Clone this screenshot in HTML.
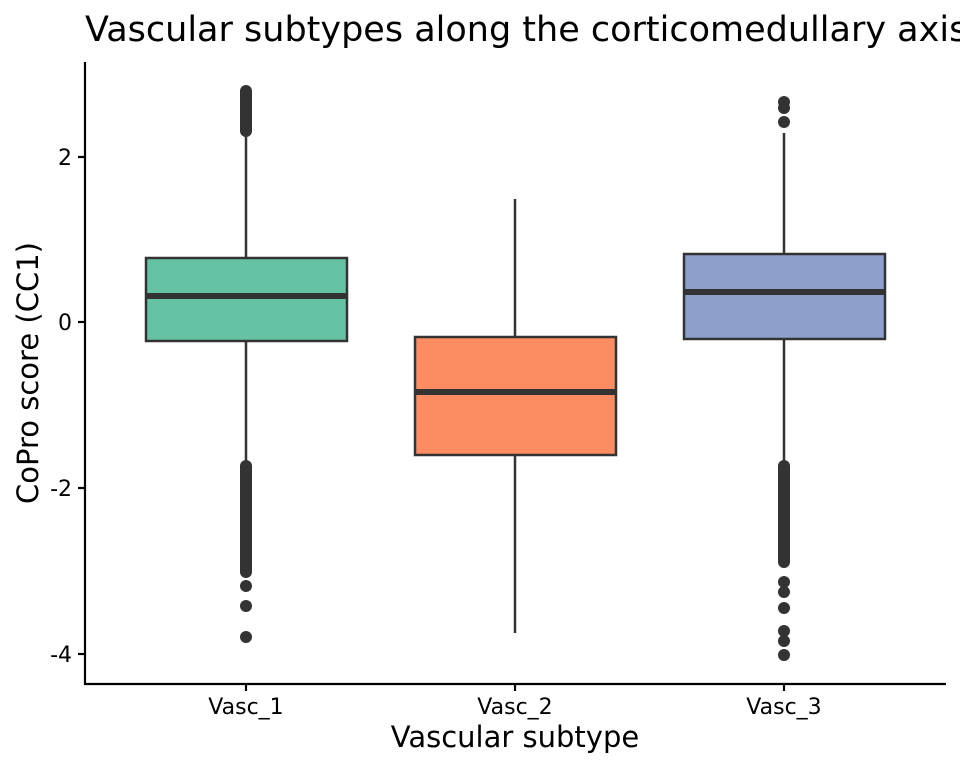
<!DOCTYPE html>
<html><head><meta charset="utf-8"><style>body{margin:0;background:#fff}svg{display:block}</style></head><body>
<svg width="960" height="768" xmlns="http://www.w3.org/2000/svg" font-family="DejaVu Sans, sans-serif">
<rect width="960" height="768" fill="#fff"/>
<text x="85" y="41" font-size="35" fill="#000">Vascular subtypes along the corticomedullary axis</text>
<g stroke="#333" stroke-width="2.5" fill="none">
<line x1="246" y1="130" x2="246" y2="258"/><line x1="246" y1="341" x2="246" y2="465"/>
<line x1="515" y1="199" x2="515" y2="337"/><line x1="515" y1="455" x2="515" y2="633"/>
<line x1="784" y1="133" x2="784" y2="254"/><line x1="784" y1="339" x2="784" y2="465"/>
</g>
<rect x="146" y="258" width="201" height="83" fill="#66c2a5" stroke="#333" stroke-width="2.5"/>
<rect x="415" y="337" width="201" height="118" fill="#fc8d62" stroke="#333" stroke-width="2.5"/>
<rect x="684" y="254" width="201" height="85" fill="#8da0cb" stroke="#333" stroke-width="2.5"/>
<g stroke="#333" stroke-width="6">
<line x1="146" y1="296" x2="347" y2="296"/><line x1="415" y1="392" x2="616" y2="392"/><line x1="684" y1="292" x2="885" y2="292"/>
</g>
<g fill="#333">
<rect x="240" y="85" width="12" height="52" rx="6"/>
<rect x="240" y="460" width="12" height="118" rx="6"/>
<circle cx="246" cy="586" r="6"/><circle cx="246" cy="606" r="6"/><circle cx="246" cy="637" r="6"/>
<circle cx="784" cy="102" r="6"/><circle cx="784" cy="108" r="6"/><circle cx="784" cy="122" r="6"/>
<rect x="778" y="460" width="12" height="108" rx="6"/>
<circle cx="784" cy="582" r="6"/><circle cx="784" cy="592" r="6"/><circle cx="784" cy="608" r="6"/><circle cx="784" cy="631" r="6"/><circle cx="784" cy="641" r="6"/><circle cx="784" cy="655" r="6"/>
</g>
<g stroke="#000" stroke-width="2.2">
<line x1="85" y1="62" x2="85" y2="685"/><line x1="84" y1="684" x2="946" y2="684"/>
<line x1="78" y1="157" x2="85" y2="157"/><line x1="78" y1="322" x2="85" y2="322"/><line x1="78" y1="488" x2="85" y2="488"/><line x1="78" y1="654" x2="85" y2="654"/>
<line x1="246" y1="684" x2="246" y2="691"/><line x1="515" y1="684" x2="515" y2="691"/><line x1="784" y1="684" x2="784" y2="691"/>
</g>
<g font-size="22" fill="#000" text-anchor="end">
<text x="72" y="165">2</text><text x="72" y="330">0</text><text x="72" y="496">-2</text><text x="72" y="662">-4</text>
</g>
<g font-size="22" fill="#000" text-anchor="middle">
<text x="246" y="714">Vasc_1</text><text x="515" y="714">Vasc_2</text><text x="784" y="714">Vasc_3</text>
</g>
<text x="515" y="747" font-size="29" text-anchor="middle">Vascular subtype</text>
<text transform="translate(38,373) rotate(-90)" font-size="29" text-anchor="middle">CoPro score (CC1)</text>
</svg>
</body></html>
